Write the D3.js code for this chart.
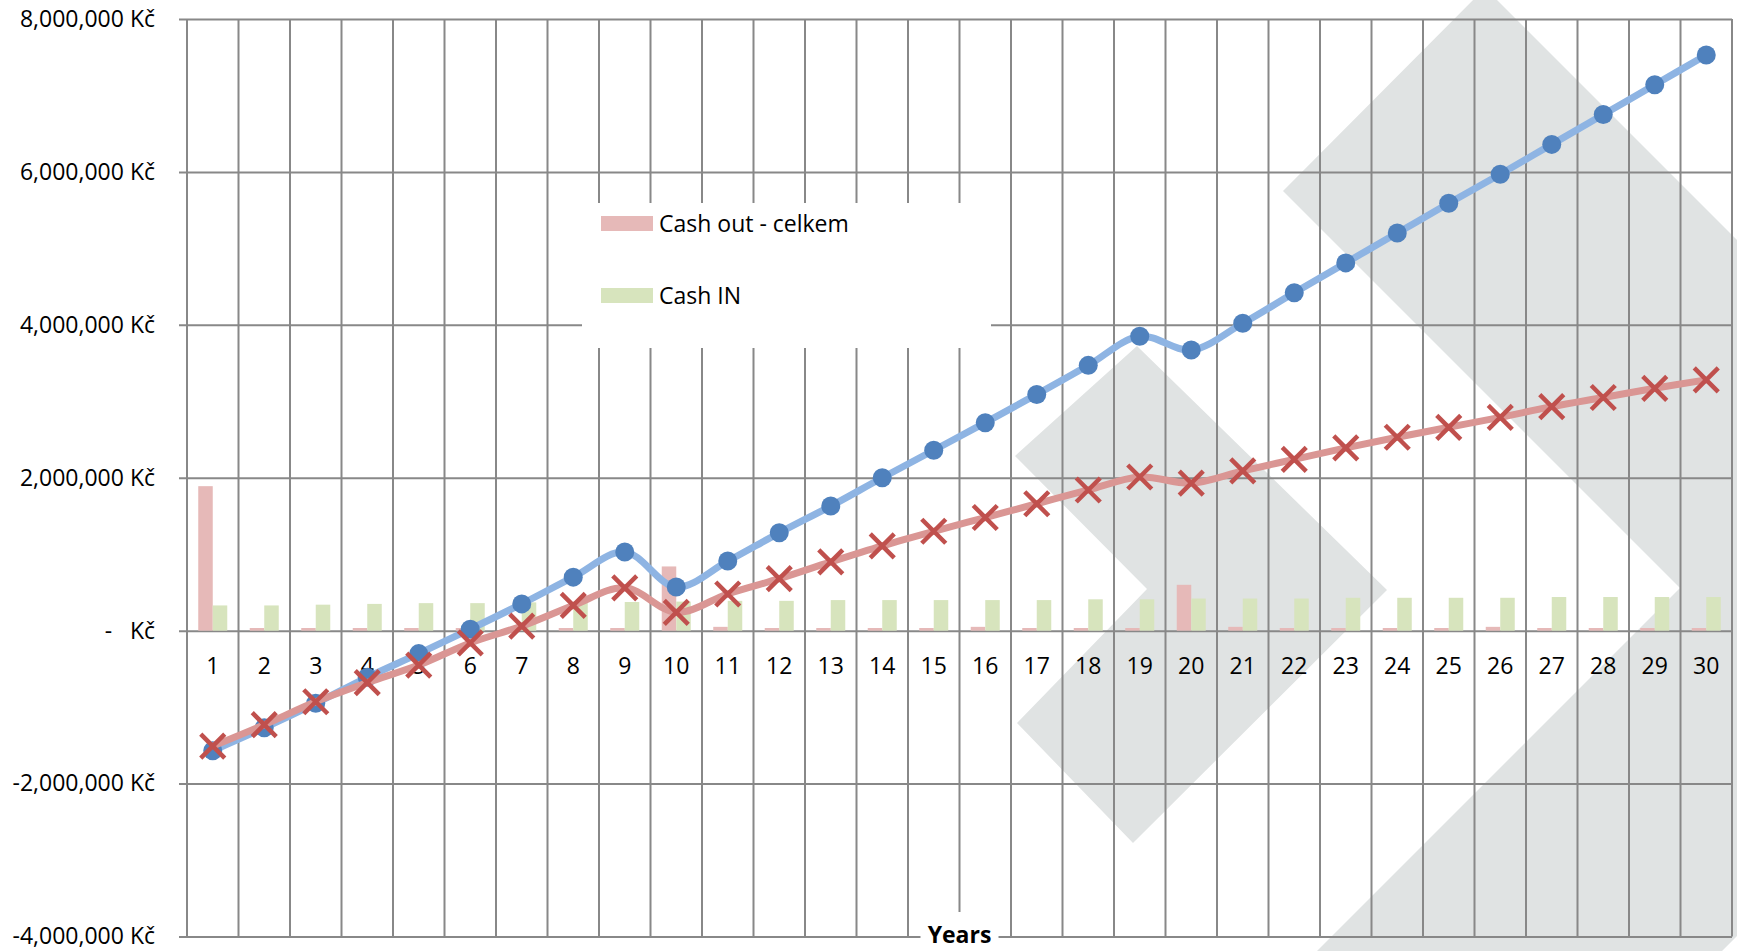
<!DOCTYPE html>
<html>
<head>
<meta charset="utf-8">
<script src="https://cdn.jsdelivr.net/npm/d3@7"></script>
<style>
  html, body { margin: 0; padding: 0; background: #fff; }
  svg { display: block; }
</style>
</head>
<body>
<div id="chart"></div>
<script>
// Data (values in Kč)
const years = [1, 2, 3, 4, 5, 6, 7, 8, 9, 10, 11, 12, 13, 14, 15,
  16, 17, 18, 19, 20, 21, 22, 23, 24, 25, 26, 27, 28, 29, 30];
const cashOut = [1890000, 35000, 35000, 35000, 35000, 35000, 35000, 35000, 35000, 840000,
  50000, 35000, 35000, 35000, 35000, 50000, 35000, 35000, 35000, 600000,
  50000, 35000, 35000, 35000, 35000, 50000, 35000, 35000, 35000, 35000];
const cashIn = [330000, 330000, 340000, 350000, 360000, 360000, 370000, 370000, 375000, 380000,
  390000, 390000, 400000, 400000, 400000, 400000, 400000, 410000, 410000, 420000,
  420000, 420000, 430000, 430000, 430000, 430000, 440000, 440000, 440000, 440000];
const balanceBlue = [-1570000, -1270000, -950000, -610000, -300000, 20000, 350000, 700000, 1030000, 570000,
  910000, 1280000, 1630000, 2000000, 2360000, 2720000, 3090000, 3470000, 3850000, 3670000,
  4020000, 4420000, 4810000, 5200000, 5590000, 5970000, 6360000, 6750000, 7140000, 7530000];
const balanceRed = [-1510000, -1230000, -930000, -680000, -450000, -160000, 60000, 330000, 560000, 240000,
  480000, 680000, 900000, 1110000, 1300000, 1480000, 1660000, 1840000, 2010000, 1930000,
  2090000, 2240000, 2390000, 2530000, 2660000, 2790000, 2930000, 3050000, 3170000, 3280000];
const yTicks = [-4000000, -2000000, 0, 2000000, 4000000, 6000000, 8000000];
const legendLabels = ["Cash out - celkem", "Cash IN"];
const xTitle = "Years";

(function () {
  const W = 1737, H = 951;
  const margin = { top: 19, right: 5, bottom: 14.5, left: 187 };
  const width = W - margin.left - margin.right;
  const height = H - margin.top - margin.bottom;
  const FONT = "'Open Sans', 'Noto Sans', sans-serif";
  const gridColor = "#888";

  const svg = d3.select("#chart").append("svg")
      .attr("width", W)
      .attr("height", H)
      .attr("font-family", FONT);

  // background watermark (two grey chevrons)
  const watermark = [
    [[1015, 456], [1137, 346], [1387, 590], [1133, 843], [1017, 723], [1147, 589]],
    [[1283, 191], [1485, -12], [2085, 588], [1485, 1188], [1283, 985], [1680, 588]]
  ];
  svg.append("g").selectAll("path")
      .data(watermark)
      .join("path")
      .attr("d", d => "M" + d.join("L") + "Z")
      .attr("fill", "#e0e3e3");

  const g = svg.append("g").attr("transform", `translate(${margin.left},${margin.top})`);

  const x = d3.scaleBand().domain(years).range([0, width]);
  const y = d3.scaleLinear().domain([-4000000, 8000000]).range([height, 0]);
  const xSub = d3.scaleBand().domain(["out", "in"]).range([0, x.bandwidth()]).paddingOuter(0.776);
  const barColor = { out: "#e6b9b8", in: "#d7e4bd" };

  const kc = d3.formatLocale({ decimal: ".", thousands: ",", grouping: [3], currency: ["", " Kč"], minus: "-" }).format("$,");

  // horizontal gridlines + y labels
  const yAxis = g.append("g")
      .call(d3.axisLeft(y).tickValues(yTicks).tickSizeInner(-width).tickSizeOuter(0).tickPadding(32)
        .tickFormat(d => d === 0 ? "Kč" : kc(d)))
      .attr("font-family", FONT)
      .attr("font-size", 23);
  yAxis.select(".domain").remove();
  yAxis.selectAll(".tick line").attr("x1", -8).attr("stroke", gridColor).attr("stroke-width", 2);
  yAxis.selectAll(".tick text").attr("fill", "#000");
  yAxis.selectAll(".tick").filter(d => d === 0).append("text")
      .attr("x", -78.5)
      .attr("dy", "0.32em")
      .attr("text-anchor", "middle")
      .attr("fill", "#000")
      .text("-");

  // vertical gridlines at category boundaries
  const bounds = years.map(d => x(d)).concat([width]);
  g.append("g").selectAll("line")
      .data(bounds)
      .join("line")
      .attr("x1", d => d).attr("x2", d => d)
      .attr("y1", 0).attr("y2", height)
      .attr("stroke", gridColor)
      .attr("stroke-width", 2);

  // category labels
  const xAxis = g.append("g")
      .attr("transform", `translate(0,${y(0)})`)
      .call(d3.axisBottom(x).tickSize(0).tickPadding(27))
      .attr("font-family", FONT)
      .attr("font-size", 23);
  xAxis.select(".domain").remove();
  xAxis.selectAll(".tick text").attr("fill", "#000");

  // legend box
  const legend = svg.append("g");
  legend.append("rect")
      .attr("x", 582).attr("y", 203)
      .attr("width", 409).attr("height", 145)
      .attr("fill", "#fff");
  const item = legend.selectAll("g.item")
      .data(legendLabels)
      .join("g")
      .attr("class", "item")
      .attr("transform", (d, i) => `translate(601,${216 + i * 72})`);
  item.append("rect")
      .attr("width", 52).attr("height", 15)
      .attr("fill", (d, i) => i === 0 ? barColor.out : barColor.in);
  item.append("text")
      .attr("x", 58).attr("y", 16)
      .attr("font-size", 23)
      .attr("fill", "#000")
      .text(d => d);

  // x axis title on a white box
  svg.append("rect")
      .attr("x", margin.left + width / 2 - 39).attr("y", 912)
      .attr("width", 78).attr("height", 40)
      .attr("fill", "#fff");
  svg.append("text")
      .attr("x", margin.left + width / 2)
      .attr("y", 943)
      .attr("text-anchor", "middle")
      .attr("font-size", 23)
      .attr("font-weight", "bold")
      .attr("fill", "#000")
      .text(xTitle);

  // bars
  const barData = years.map((yr, i) => ({ yr, out: cashOut[i], in: cashIn[i] }));
  g.append("g").selectAll("g")
      .data(barData)
      .join("g")
      .attr("transform", d => `translate(${x(d.yr)},0)`)
      .selectAll("rect")
      .data(d => [{ k: "out", v: d.out }, { k: "in", v: d.in }])
      .join("rect")
      .attr("x", d => xSub(d.k))
      .attr("width", xSub.bandwidth())
      .attr("y", d => y(d.v))
      .attr("height", d => y(0) - y(d.v))
      .attr("fill", d => barColor[d.k]);

  const cx = i => x(years[i]) + x.bandwidth() / 2;
  const line = d3.line()
      .x((d, i) => cx(i))
      .y(d => y(d))
      .curve(d3.curveCatmullRom.alpha(0.5));

  // blue series
  g.append("path")
      .datum(balanceBlue)
      .attr("fill", "none")
      .attr("stroke", "#8eb4e3")
      .attr("stroke-width", 7)
      .attr("d", line);
  g.append("g").selectAll("circle")
      .data(balanceBlue)
      .join("circle")
      .attr("cx", (d, i) => cx(i))
      .attr("cy", d => y(d))
      .attr("r", 9.5)
      .attr("fill", "#4f81bd");

  // red series
  g.append("path")
      .datum(balanceRed)
      .attr("fill", "none")
      .attr("stroke", "#da9694")
      .attr("stroke-width", 7)
      .attr("d", line);
  const s = 12;
  g.append("g").selectAll("path")
      .data(balanceRed)
      .join("path")
      .attr("transform", (d, i) => `translate(${cx(i)},${y(d)})`)
      .attr("d", `M${-s},${-s}L${s},${s}M${-s},${s}L${s},${-s}`)
      .attr("stroke", "#c0504d")
      .attr("stroke-width", 4.5)
      .attr("fill", "none");
})();
</script>
</body>
</html>
